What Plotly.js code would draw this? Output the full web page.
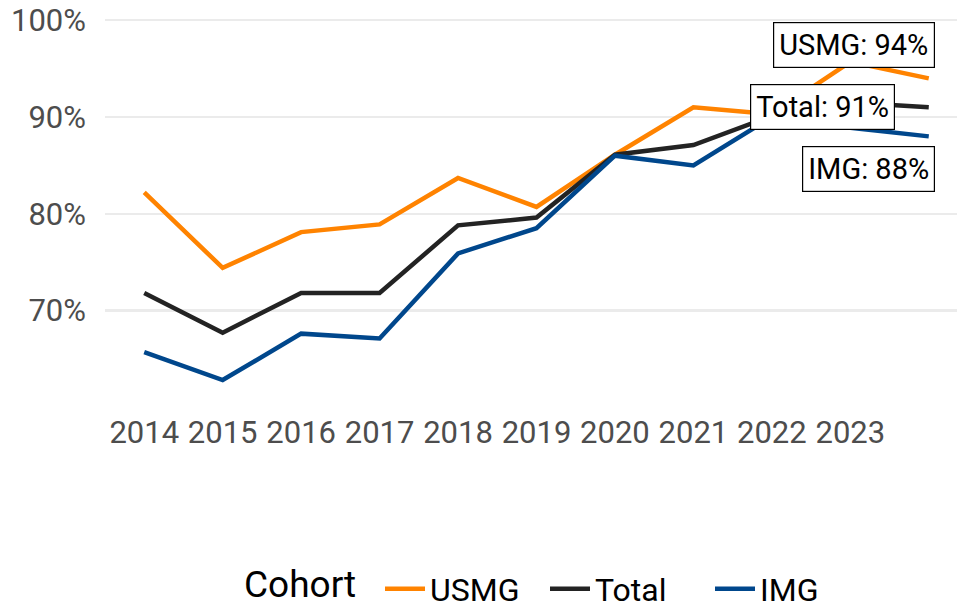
<!DOCTYPE html>
<html>
<head>
<meta charset="utf-8">
<script src="https://cdn.plot.ly/plotly-3.0.1.min.js"></script>
<style>html,body{margin:0;padding:0;background:#fff;}#chart{width:957px;height:609px;}</style>
</head>
<body>
<div id="chart"></div>
<script>
const years = [2014, 2015, 2016, 2017, 2018, 2019, 2020, 2021, 2022, 2023, 2024];
const usmg  = [82.2, 74.4, 78.1, 78.9, 83.7, 80.7, 86.1, 91.0, 90.3, 95.7, 94.0];
const total = [71.8, 67.7, 71.8, 71.8, 78.8, 79.6, 86.1, 87.1, 90.1, 91.5, 91.0];
const img   = [65.7, 62.8, 67.6, 67.1, 75.9, 78.5, 86.0, 85.0, 90.0, 88.9, 88.0];
const seriesNames = ["USMG", "Total", "IMG"];
const xTicks = [2014, 2015, 2016, 2017, 2018, 2019, 2020, 2021, 2022, 2023];
const yTicks = [70, 80, 90, 100];
const labelTexts = ["USMG: 94%", "Total: 91%", "IMG: 88%"];
const legendTitle = "Cohort";

const colors = ["#FF8300", "#232323", "#00478C"];
const seriesData = [usmg, total, img];

const traces = seriesNames.map((n, i) => ({
  x: years, y: seriesData[i], name: n, type: "scatter", mode: "lines",
  line: {color: colors[i], width: 4.5}
}));

const lastIdx = years.length - 1;
const shifts = [[-75, 33], [-106, 0], [-60, -33]];
const annotations = seriesNames.map((n, i) => ({
  x: years[lastIdx], y: seriesData[i][lastIdx], xref: "x", yref: "y",
  text: labelTexts[i], showarrow: false,
  xshift: shifts[i][0], yshift: shifts[i][1],
  font: {family: "Roboto", size: 29, color: "#000"},
  bgcolor: "#fff", bordercolor: "#000", borderwidth: 1.2, borderpad: 5
}));
annotations.push({
  text: legendTitle, xref: "paper", yref: "paper", x: 0.2958, y: -0.478,
  xanchor: "right", yanchor: "bottom", showarrow: false, borderpad: 0,
  font: {family: "Roboto", size: 37, color: "#000"}
});

const layout = {
  width: 957, height: 609,
  margin: {l: 105, r: 0, t: 1, b: 198},
  paper_bgcolor: "#fff", plot_bgcolor: "#fff",
  font: {family: "Roboto", color: "#4D4D4D"},
  xaxis: {
    range: [2013.5, 2024.36], tickvals: xTicks, ticktext: xTicks.map(String),
    showgrid: false, zeroline: false, showline: false, ticks: "",
    tickfont: {size: 31, color: "#4D4D4D"}
  },
  yaxis: {
    range: [59.6, 102], tickvals: yTicks, ticktext: yTicks.map(v => v + "%"),
    showgrid: true, gridcolor: "#EBEBEB", gridwidth: 2.2,
    zeroline: false, showline: false, ticks: "", ticklabelstandoff: 18,
    tickfont: {size: 31, color: "#4D4D4D"}
  },
  showlegend: true,
  legend: {
    orientation: "h", x: 380 / 957, xanchor: "left", xref: "container",
    y: 1 - 589 / 609, yanchor: "middle", yref: "container",
    font: {size: 32, color: "#000"}, itemwidth: 40,
    entrywidth: 110, entrywidthmode: "pixels", tracegroupgap: 0
  },
  annotations: annotations
};

Plotly.newPlot("chart", traces, layout, {displayModeBar: false, staticPlot: true});
</script>
</body>
</html>
